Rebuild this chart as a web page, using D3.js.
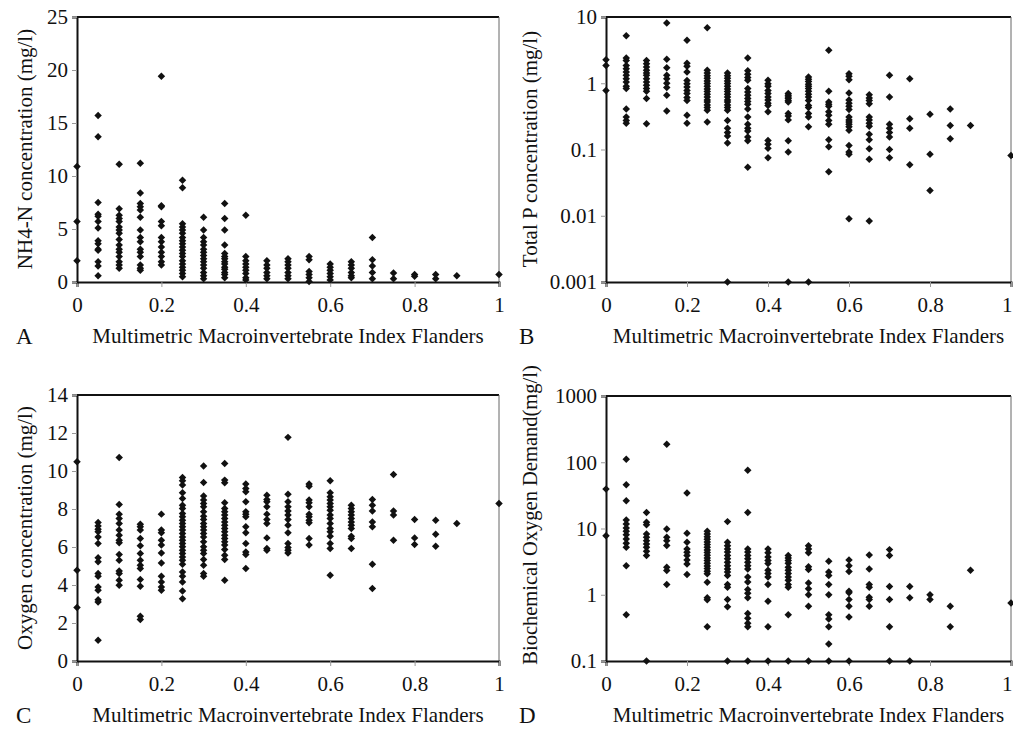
<!DOCTYPE html>
<html>
<head>
<meta charset="utf-8">
<script src="https://cdn.jsdelivr.net/npm/d3@7"></script>
<style>
    body { margin: 0; background: #fff; }
    text { font-family: "Liberation Serif", "Times New Roman", serif; fill: #111; }
</style>
</head>
<body>
<div id="chart-holder"></div>
<script>
// MMIF classes on the x axis (0.95 has no sites)
const mmif = [0, 0.05, 0.1, 0.15, 0.2, 0.25, 0.3, 0.35, 0.4, 0.45, 0.5, 0.55, 0.6, 0.65, 0.7, 0.75, 0.8, 0.85, 0.9, 0.95, 1];
const xTicks = [0, 0.2, 0.4, 0.6, 0.8, 1];

// A: NH4-N (mg/l), one list per MMIF class
const nh4 = [
    [10.9, 5.7, 2.0],
    [15.7, 13.7, 7.5, 6.4, 6.2, 5.7, 5.1, 3.9, 3.6, 3.1, 3.0, 1.9, 1.5, 0.6],
    [11.1, 6.9, 6.3, 6.0, 5.7, 5.2, 4.9, 4.6, 4.0, 3.5, 3.1, 2.8, 2.4, 1.9, 1.6, 1.3],
    [11.2, 8.4, 7.4, 7.1, 6.8, 6.1, 4.9, 4.2, 3.8, 3.1, 2.8, 2.4, 1.6, 1.3, 1.1],
    [19.4, 7.2, 7.1, 5.7, 5.3, 4.2, 3.8, 3.3, 2.8, 2.4, 1.9, 1.6],
    [9.6, 8.9, 5.5, 5.2, 4.9, 4.6, 4.2, 3.9, 3.6, 3.3, 3.0, 2.7, 2.4, 2.0, 1.7, 1.4, 1.1, 0.8, 0.5],
    [6.1, 4.9, 4.2, 3.8, 3.5, 3.1, 2.8, 2.5, 2.2, 1.9, 1.6, 1.3, 0.9, 0.6, 0.3],
    [7.4, 6.0, 4.9, 3.5, 2.7, 2.4, 2.2, 1.9, 1.7, 1.4, 1.2, 0.9, 0.7, 0.4],
    [6.3, 2.4, 2.0, 1.7, 1.4, 1.1, 0.8, 0.4, 0.2],
    [2.0, 1.6, 1.3, 0.9, 0.6, 0.3],
    [2.2, 1.9, 1.6, 1.3, 0.9, 0.6, 0.3],
    [2.4, 2.1, 1.0, 0.7, 0.4, 0.05],
    [1.7, 1.4, 1.1, 0.8, 0.5, 0.2],
    [1.9, 1.6, 1.3, 0.9, 0.6, 0.4],
    [4.2, 2.1, 1.5, 0.9, 0.3],
    [0.85, 0.3],
    [0.7, 0.55],
    [0.7, 0.3],
    [0.6],
    [],
    [0.7]
];

// B: total P (mg/l)
const totalP = [
    [2.27, 1.86, 0.78],
    [5.2, 2.4, 2.2, 1.86, 1.66, 1.48, 1.32, 1.17, 1.04, 0.9, 0.83, 0.41, 0.31, 0.275, 0.25],
    [2.2, 1.97, 1.76, 1.57, 1.43, 1.32, 1.17, 1.04, 0.93, 0.83, 0.76, 0.59, 0.245],
    [8.1, 2.3, 1.72, 1.32, 1.17, 1.0, 0.86, 0.66, 0.38],
    [4.45, 2.0, 1.8, 1.48, 1.1, 0.98, 0.88, 0.78, 0.7, 0.61, 0.55, 0.33, 0.25],
    [6.9, 1.57, 1.43, 1.3, 1.19, 1.08, 0.99, 0.9, 0.82, 0.75, 0.68, 0.62, 0.56, 0.52, 0.47, 0.43, 0.39, 0.26],
    [1.43, 1.3, 1.19, 1.08, 0.99, 0.9, 0.82, 0.75, 0.68, 0.62, 0.56, 0.52, 0.47, 0.43, 0.39, 0.275, 0.21, 0.18, 0.16, 0.125, 0.001],
    [2.4, 1.55, 1.37, 1.22, 1.11, 0.83, 0.74, 0.66, 0.59, 0.53, 0.48, 0.41, 0.31, 0.24, 0.21, 0.19, 0.155, 0.135, 0.054],
    [1.11, 0.98, 0.9, 0.78, 0.7, 0.62, 0.56, 0.5, 0.46, 0.37, 0.137, 0.12, 0.104, 0.075],
    [0.7, 0.66, 0.62, 0.59, 0.55, 0.52, 0.35, 0.32, 0.28, 0.135, 0.092, 0.001],
    [1.24, 1.15, 1.06, 0.97, 0.9, 0.83, 0.76, 0.68, 0.62, 0.55, 0.46, 0.43, 0.35, 0.31, 0.22, 0.001],
    [3.14, 0.76, 0.52, 0.48, 0.45, 0.37, 0.33, 0.275, 0.24, 0.14, 0.11, 0.046],
    [1.39, 1.27, 1.13, 0.71, 0.56, 0.5, 0.45, 0.4, 0.31, 0.28, 0.26, 0.24, 0.22, 0.195, 0.115, 0.092, 0.085, 0.009],
    [0.67, 0.6, 0.55, 0.49, 0.31, 0.28, 0.25, 0.225, 0.17, 0.14, 0.103, 0.071, 0.0083],
    [1.32, 0.62, 0.24, 0.21, 0.18, 0.155, 0.1, 0.075],
    [1.17, 0.29, 0.21, 0.059],
    [0.34, 0.085, 0.024],
    [0.41, 0.23, 0.145],
    [0.23],
    [],
    [0.081]
];

// C: oxygen (mg/l)
const oxygen = [
    [10.49, 4.78, 2.81],
    [7.29, 7.11, 6.94, 6.8, 6.53, 6.18, 5.43, 5.22, 4.6, 4.46, 3.9, 3.72, 3.23, 3.11, 1.09],
    [10.71, 8.24, 7.73, 7.5, 7.24, 6.89, 6.62, 6.36, 6.22, 5.6, 5.3, 4.74, 4.6, 4.25, 3.99],
    [7.2, 7.06, 6.89, 6.45, 6.06, 5.66, 5.3, 5.04, 4.87, 4.29, 3.93, 2.35, 2.18],
    [7.73, 6.89, 6.75, 6.36, 6.1, 5.69, 5.16, 4.46, 4.16, 3.9, 3.72],
    [9.66, 9.49, 9.26, 8.85, 8.55, 8.2, 8.03, 7.76, 7.59, 7.41, 7.24, 7.06, 6.89, 6.71, 6.53, 6.36, 6.18, 6.01, 5.83, 5.66, 5.48, 5.3, 5.09, 4.69, 4.46, 4.16, 3.69, 3.28],
    [10.26, 9.4, 8.68, 8.47, 8.29, 8.12, 7.85, 7.62, 7.45, 7.24, 7.06, 6.89, 6.71, 6.53, 6.27, 6.01, 5.83, 5.66, 5.34, 5.04, 4.6, 4.46],
    [10.4, 9.52, 9.38, 8.33, 8.03, 7.85, 7.68, 7.5, 7.32, 7.15, 6.97, 6.8, 6.62, 6.45, 6.27, 6.1, 5.87, 5.57, 5.34, 4.25],
    [9.31, 9.08, 8.91, 8.38, 7.85, 7.73, 7.59, 7.06, 6.75, 6.18, 5.74, 5.6, 4.87],
    [8.73, 8.5, 8.38, 8.12, 7.73, 7.45, 7.24, 6.48, 5.92, 5.83],
    [11.77, 8.78, 8.38, 8.12, 7.9, 7.68, 7.45, 7.15, 6.75, 6.18, 5.97, 5.83, 5.69],
    [9.31, 9.2, 8.47, 8.33, 8.12, 7.73, 7.59, 7.41, 7.27, 6.45, 6.1],
    [9.49, 8.85, 8.64, 8.47, 8.29, 8.12, 7.94, 7.68, 7.5, 7.24, 6.97, 6.8, 6.57, 6.18, 5.92, 4.51],
    [8.2, 8.03, 7.85, 7.68, 7.5, 7.32, 7.15, 6.97, 6.57, 6.45, 5.92],
    [8.5, 8.2, 7.9, 7.32, 7.06, 5.09, 3.81],
    [9.82, 7.9, 7.68, 6.36],
    [7.45, 6.48, 6.13],
    [7.41, 6.67, 6.04],
    [7.24],
    [],
    [8.29]
];

// D: biochemical oxygen demand (mg/l)
const bod = [
    [39.3, 7.8],
    [111, 45.7, 26.2, 13.4, 11.7, 10.2, 9.06, 8.07, 6.95, 5.98, 5.2, 2.75, 0.5],
    [17.5, 12.4, 11.4, 8.26, 7.36, 6.56, 5.85, 5.2, 4.53, 3.9, 0.1],
    [187, 9.8, 7.36, 6.56, 5.52, 2.6, 2.32, 1.43],
    [34.3, 8.46, 6.2, 4.91, 4.37, 3.9, 3.36, 2.92, 2.02],
    [9.06, 8.26, 7.53, 6.87, 6.27, 5.71, 5.2, 4.74, 4.33, 3.95, 3.6, 3.28, 2.99, 2.72, 2.48, 2.27, 2.07, 1.55, 0.9, 0.84, 0.33],
    [12.7, 6.2, 5.5, 4.9, 4.4, 3.9, 3.5, 3.1, 2.75, 2.45, 2.2, 1.96, 1.43, 1.3, 0.85, 0.66, 0.1],
    [76, 17.5, 4.9, 4.4, 3.9, 3.5, 3.1, 2.75, 2.45, 1.85, 1.56, 1.2, 1.05, 0.9, 0.52, 0.44, 0.37, 0.33, 0.1],
    [4.9, 4.3, 3.7, 3.3, 2.95, 2.35, 2.1, 1.85, 1.43, 0.8, 0.33, 0.1],
    [3.9, 3.6, 3.3, 3.0, 2.6, 2.35, 2.1, 1.85, 1.65, 1.43, 1.3, 0.5, 0.1],
    [5.5, 4.9, 4.3, 2.65, 2.4, 1.5, 1.23, 1.0, 0.67, 0.1],
    [3.2, 2.2, 1.96, 1.43, 1.0, 0.5, 0.43, 0.33, 0.18, 0.1],
    [3.36, 2.75, 2.25, 1.13, 1.07, 0.85, 0.67, 0.46, 0.1],
    [3.97, 2.45, 1.43, 1.3, 0.92, 0.85, 0.67],
    [4.8, 3.9, 1.33, 0.85, 0.33, 0.1],
    [1.33, 0.9, 0.1],
    [1.0, 0.85],
    [0.67, 0.33],
    [2.35],
    [],
    [0.75]
];

const yTicksA = [0, 5, 10, 15, 20, 25];
const yTicksB = [0.001, 0.01, 0.1, 1, 10];
const yTicksC = [0, 2, 4, 6, 8, 10, 12, 14];
const yTicksD = [0.1, 1, 10, 100, 1000];

const xTitle = "Multimetric Macroinvertebrate Index Flanders";

// Set up canvas
const width = 1013;
const height = 729;

const svg = d3.select("#chart-holder")
    .append("svg")
    .attr("width", width)
    .attr("height", height);

const panels = [
    { letter: "A", values: nh4, ticks: yTicksA, log: false, title: "NH4-N concentration (mg/l)",
      left: 77, right: 499, top: 17, bottom: 282, lx: 16, tx: 32, ty: 149, ts: 21 },
    { letter: "B", values: totalP, ticks: yTicksB, log: true, title: "Total P concentration (mg/l)",
      left: 606, right: 1011, top: 17, bottom: 282, lx: 519, tx: 537, ty: 149, ts: 21 },
    { letter: "C", values: oxygen, ticks: yTicksC, log: false, title: "Oxygen concentration (mg/l)",
      left: 77, right: 499, top: 395, bottom: 661, lx: 16, tx: 32, ty: 528, ts: 21 },
    { letter: "D", values: bod, ticks: yTicksD, log: true, title: "Biochemical Oxygen Demand(mg/l)",
      left: 606, right: 1011, top: 396, bottom: 661, lx: 519, tx: 537, ty: 515, ts: 20.5 }
];

const fontSize = 21;
const diamond = d3.symbol().type(d3.symbolSquare).size(28);

panels.forEach(function(p) {

    const x = d3.scaleLinear().domain([0, 1]).range([p.left, p.right]);
    const yDomain = d3.extent(p.ticks);
    const y = p.log
        ? d3.scaleLog().domain(yDomain).range([p.bottom, p.top])
        : d3.scaleLinear().domain(yDomain).range([p.bottom, p.top]);

    const g = svg.append("g");

    // frame: thick top, thin right
    g.append("line")
        .attr("x1", p.left).attr("x2", p.right)
        .attr("y1", p.top).attr("y2", p.top)
        .attr("stroke", "#111").attr("stroke-width", 2);
    g.append("line")
        .attr("x1", p.right).attr("x2", p.right)
        .attr("y1", p.top).attr("y2", p.bottom)
        .attr("stroke", "#666").attr("stroke-width", 1);

    // axes
    const xAxis = d3.axisBottom(x)
        .tickValues(xTicks)
        .tickSize(5)
        .tickPadding(10)
        .tickFormat(d => String(d));

    const yAxis = d3.axisLeft(y)
        .tickValues(p.ticks)
        .tickSize(5)
        .tickPadding(4)
        .tickFormat(d => String(d));

    const gx = g.append("g")
        .attr("transform", `translate(0,${p.bottom})`)
        .call(xAxis);
    const gy = g.append("g")
        .attr("transform", `translate(${p.left},0)`)
        .call(yAxis);

    [gx, gy].forEach(function(a) {
        a.select(".domain").attr("stroke", "#111").attr("stroke-width", 2);
        a.selectAll(".tick line").attr("stroke", "#999").attr("stroke-width", 1);
        a.selectAll(".tick text")
            .attr("font-family", "Liberation Serif")
            .attr("font-size", fontSize)
            .attr("fill", "#111");
    });
    gy.selectAll(".tick text").attr("dy", "0.33em");

    // keep the last x label inside the window
    if (p.right > width - 8) {
        gx.selectAll(".tick text")
            .filter(d => d === 1)
            .attr("text-anchor", "end")
            .attr("dx", width - 1 - p.right);
    }

    // points
    const points = [];
    p.values.forEach(function(col, i) {
        col.forEach(function(v) {
            points.push({ x: mmif[i], y: v });
        });
    });

    g.selectAll("path.pt")
        .data(points)
        .enter()
        .append("path")
        .attr("class", "pt")
        .attr("d", diamond)
        .attr("fill", "#111")
        .attr("transform", d => `translate(${x(d.x)},${y(d.y)}) rotate(45)`);

    // titles
    g.append("text")
        .attr("x", (p.left + p.right) / 2)
        .attr("y", p.bottom + 61)
        .attr("text-anchor", "middle")
        .attr("font-size", fontSize)
        .text(xTitle);

    g.append("text")
        .attr("x", p.lx)
        .attr("y", p.bottom + 62)
        .attr("font-size", fontSize + 2)
        .text(p.letter);

    g.append("text")
        .attr("transform", `translate(${p.tx},${p.ty}) rotate(-90)`)
        .attr("text-anchor", "middle")
        .attr("font-size", p.ts)
        .text(p.title);
});
</script>
</body>
</html>
